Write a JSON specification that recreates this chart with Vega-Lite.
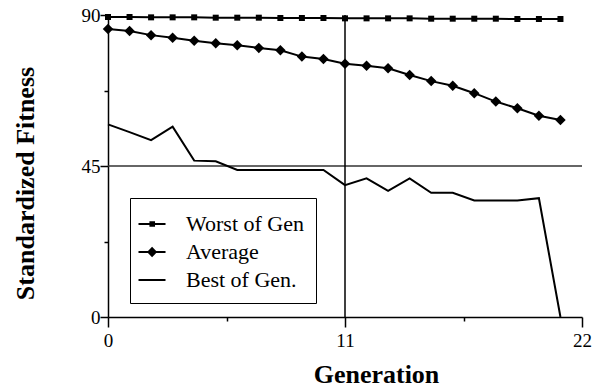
{
  "$schema": "https://vega.github.io/schema/vega-lite/v6.json",
  "width": 474,
  "height": 302,
  "autosize": {"type": "none"},
  "padding": {"left": 108, "top": 15, "right": 10, "bottom": 72},
  "background": "white",
  "config": {
    "view": {"stroke": null},
    "font": "Liberation Serif",
    "axis": {
      "domainColor": "black", "domainWidth": 1.5, "tickColor": "black", "tickWidth": 1.5,
      "grid": false, "labelFont": "Liberation Serif", "labelColor": "black", "labelFontSize": 19,
      "titleFont": "Liberation Serif", "titleFontWeight": "bold", "titleFontSize": 26, "titleColor": "black"
    }
  },
  "datasets": {
    "fitness": [
      {"gen": 0, "series": "Worst of Gen", "value": 89.4},
      {"gen": 1, "series": "Worst of Gen", "value": 89.4},
      {"gen": 2, "series": "Worst of Gen", "value": 89.3},
      {"gen": 3, "series": "Worst of Gen", "value": 89.3},
      {"gen": 4, "series": "Worst of Gen", "value": 89.3},
      {"gen": 5, "series": "Worst of Gen", "value": 89.2},
      {"gen": 6, "series": "Worst of Gen", "value": 89.2},
      {"gen": 7, "series": "Worst of Gen", "value": 89.2},
      {"gen": 8, "series": "Worst of Gen", "value": 89.1},
      {"gen": 9, "series": "Worst of Gen", "value": 89.1},
      {"gen": 10, "series": "Worst of Gen", "value": 89.1},
      {"gen": 11, "series": "Worst of Gen", "value": 89.0},
      {"gen": 12, "series": "Worst of Gen", "value": 89.0},
      {"gen": 13, "series": "Worst of Gen", "value": 89.0},
      {"gen": 14, "series": "Worst of Gen", "value": 89.0},
      {"gen": 15, "series": "Worst of Gen", "value": 88.9},
      {"gen": 16, "series": "Worst of Gen", "value": 88.9},
      {"gen": 17, "series": "Worst of Gen", "value": 88.9},
      {"gen": 18, "series": "Worst of Gen", "value": 88.9},
      {"gen": 19, "series": "Worst of Gen", "value": 88.8},
      {"gen": 20, "series": "Worst of Gen", "value": 88.8},
      {"gen": 21, "series": "Worst of Gen", "value": 88.8},
      {"gen": 0, "series": "Average", "value": 85.8},
      {"gen": 1, "series": "Average", "value": 85.2},
      {"gen": 2, "series": "Average", "value": 84.0},
      {"gen": 3, "series": "Average", "value": 83.2},
      {"gen": 4, "series": "Average", "value": 82.3},
      {"gen": 5, "series": "Average", "value": 81.6},
      {"gen": 6, "series": "Average", "value": 81.0},
      {"gen": 7, "series": "Average", "value": 80.2},
      {"gen": 8, "series": "Average", "value": 79.5},
      {"gen": 9, "series": "Average", "value": 77.6},
      {"gen": 10, "series": "Average", "value": 76.9},
      {"gen": 11, "series": "Average", "value": 75.5},
      {"gen": 12, "series": "Average", "value": 74.9},
      {"gen": 13, "series": "Average", "value": 74.1},
      {"gen": 14, "series": "Average", "value": 72.1},
      {"gen": 15, "series": "Average", "value": 70.3},
      {"gen": 16, "series": "Average", "value": 68.9},
      {"gen": 17, "series": "Average", "value": 66.7},
      {"gen": 18, "series": "Average", "value": 64.2},
      {"gen": 19, "series": "Average", "value": 62.2},
      {"gen": 20, "series": "Average", "value": 60.0},
      {"gen": 21, "series": "Average", "value": 58.7},
      {"gen": 0, "series": "Best of Gen.", "value": 57.4},
      {"gen": 1, "series": "Best of Gen.", "value": 55.1},
      {"gen": 2, "series": "Best of Gen.", "value": 52.7},
      {"gen": 3, "series": "Best of Gen.", "value": 56.7},
      {"gen": 4, "series": "Best of Gen.", "value": 46.6},
      {"gen": 5, "series": "Best of Gen.", "value": 46.4},
      {"gen": 6, "series": "Best of Gen.", "value": 43.8},
      {"gen": 7, "series": "Best of Gen.", "value": 43.8},
      {"gen": 8, "series": "Best of Gen.", "value": 43.8},
      {"gen": 9, "series": "Best of Gen.", "value": 43.8},
      {"gen": 10, "series": "Best of Gen.", "value": 43.8},
      {"gen": 11, "series": "Best of Gen.", "value": 39.3},
      {"gen": 12, "series": "Best of Gen.", "value": 41.3},
      {"gen": 13, "series": "Best of Gen.", "value": 37.6},
      {"gen": 14, "series": "Best of Gen.", "value": 41.3},
      {"gen": 15, "series": "Best of Gen.", "value": 37.0},
      {"gen": 16, "series": "Best of Gen.", "value": 37.0},
      {"gen": 17, "series": "Best of Gen.", "value": 34.7},
      {"gen": 18, "series": "Best of Gen.", "value": 34.7},
      {"gen": 19, "series": "Best of Gen.", "value": 34.7},
      {"gen": 20, "series": "Best of Gen.", "value": 35.4},
      {"gen": 21, "series": "Best of Gen.", "value": 0}
    ]
  },
  "data": {"name": "fitness"},
  "encoding": {
    "x": {
      "field": "gen", "type": "quantitative",
      "scale": {"domain": [0, 22], "nice": false, "zero": false},
      "axis": {
        "title": "Generation", "values": [0, 5.5, 11, 16.5, 22],
        "labelExpr": "(datum.value == 0 || datum.value == 11 || datum.value == 22) ? datum.label : ''",
        "tickSize": {"condition": {"test": "datum.value == 0 || datum.value == 11 || datum.value == 22", "value": 10}, "value": 4},
        "labelPadding": 4, "labelFlush": false, "labelOverlap": false,
        "titleX": 268, "titleY": 65, "titleBaseline": "alphabetic", "titleAlign": "center", "titleAnchor": null
      }
    },
    "y": {
      "field": "value", "type": "quantitative",
      "scale": {"domain": [0, 90], "nice": false},
      "axis": {
        "title": "Standardized Fitness", "values": [0, 22.5, 45, 67.5, 90],
        "labelExpr": "(datum.value == 0 || datum.value == 45 || datum.value == 90) ? datum.label : ''",
        "tickSize": {"condition": {"test": "datum.value == 0 || datum.value == 45 || datum.value == 90", "value": 8}, "value": 4},
        "labelPadding": 0, "labelFlush": false, "labelOverlap": false, "labelBaseline": "middle",
        "titleX": -75, "titleY": 168, "titleBaseline": "alphabetic", "titleAlign": "center", "titleAngle": -90, "titleAnchor": null
      }
    }
  },
  "layer": [
    {
      "data": {"values": [{"level": 45}]},
      "mark": {"type": "rule", "color": "#333", "strokeWidth": 1.5},
      "encoding": {"y": {"field": "level", "type": "quantitative"}, "x": null}
    },
    {
      "data": {"values": [{"g": 11}]},
      "mark": {"type": "rule", "color": "black", "strokeWidth": 1.5},
      "encoding": {"x": {"field": "g", "type": "quantitative"}, "y": null}
    },
    {
      "mark": {"type": "line", "color": "black", "strokeWidth": 2},
      "encoding": {"detail": {"field": "series"}}
    },
    {
      "transform": [{"filter": "datum.series == 'Worst of Gen'"}],
      "mark": {"type": "point", "shape": "square", "filled": true, "color": "black", "size": 36, "opacity": 1}
    },
    {
      "transform": [{"filter": "datum.series == 'Average'"}],
      "mark": {"type": "point", "shape": "diamond", "filled": true, "color": "black", "size": 110, "opacity": 1}
    },
    {
      "transform": [{"filter": "false"}],
      "mark": {"type": "point", "filled": true, "color": "black", "opacity": 1},
      "encoding": {
        "shape": {
          "field": "series", "type": "nominal",
          "scale": {
            "domain": ["Worst of Gen", "Average", "Best of Gen."],
            "range": [
              "M-1.25,-0.07H0.68V0.07H-1.25ZM-0.47,-0.2H-0.07V0.2H-0.47Z",
              "M-1.25,-0.07H0.68V0.07H-1.25ZM-0.28,-0.38L0.08,0L-0.28,0.38L-0.64,0Z",
              "M-1.25,-0.07H0.68V0.07H-1.25Z"
            ]
          },
          "legend": {
            "title": null, "orient": "none", "legendX": 22, "legendY": 183,
            "symbolSize": 784, "symbolFillColor": "black", "symbolStrokeWidth": 0,
            "symbolOpacity": 1, "labelFont": "Liberation Serif", "labelFontSize": 22, "labelColor": "black",
            "labelOffset": 16, "rowPadding": 3, "padding": 12, "strokeColor": "black",
            "fillColor": "white", "labelLimit": 300,
            "encode": {
              "legend": {"update": {"strokeWidth": {"value": 2}}},
              "symbols": {"update": {"fill": {"value": "black"}, "opacity": {"value": 1}}}
            }
          }
        }
      }
    }
  ]
}
